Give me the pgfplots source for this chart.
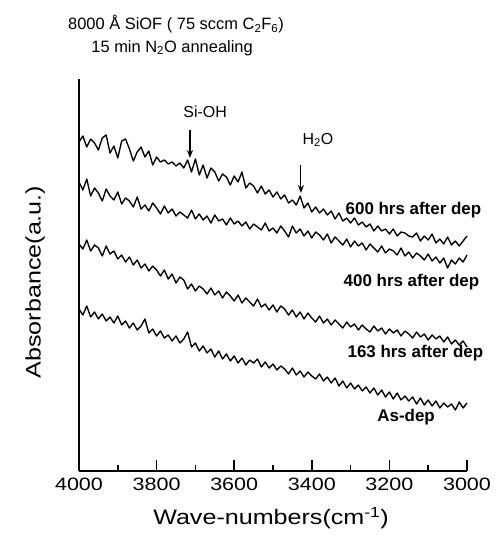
\documentclass[border=0pt]{standalone}
\usepackage{pgfplots}
\pgfplotsset{compat=1.18}
\usepackage{fontspec}
\setmainfont{Liberation Sans}
\newfontfamily\widesans[FakeStretch=1.2]{Liberation Sans}
\usetikzlibrary{arrows.meta}

\pgfplotsset{spec/.style={black, no markers, line width=1.35bp, line join=round}}

\begin{document}
\begin{tikzpicture}
\begin{axis}[
    at={(0,0)}, anchor=south west,
    scale only axis,
    width=388bp, height=392bp,
    xmin=3000, xmax=4000, x dir=reverse,
    ymin=79, ymax=471, y dir=reverse,
    axis x line=bottom, axis y line=left,
    axis line style={-, line width=1.5bp},
    xtick={3000,3200,...,4000},
    minor x tick num=1,
    ytick=\empty,
    tick align=inside,
    major tick length=11bp, minor tick length=6bp,
    tick style={line width=1.6bp, black},
    xticklabel style={font=\widesans\fontsize{18}{20}\selectfont, yshift=-3bp},
    /pgf/number format/assume math mode=true,
    /pgf/number format/1000 sep={},
    clip=false,
]

% 600 hrs after dep
\addplot[spec] coordinates {
(4000,142) (3990,136) (3980,147) (3970,139) (3960,143) (3950,150) (3940,138) (3930,135)
(3920,153) (3910,146) (3900,158) (3890,141) (3880,139) (3870,149) (3860,161) (3850,152)
(3840,147) (3830,157) (3820,151) (3810,165) (3800,157) (3790,162) (3780,160) (3770,164)
(3760,162) (3750,166) (3740,163) (3730,168) (3720,160) (3710,172) (3700,159) (3690,175)
(3680,165) (3670,178) (3660,168) (3650,172) (3640,181) (3630,174) (3620,177) (3610,185)
(3600,176) (3590,182) (3580,172) (3570,188) (3560,183) (3550,186) (3540,193) (3530,186)
(3520,194) (3510,190) (3500,197) (3490,192) (3480,199) (3470,195) (3460,203) (3450,200)
(3440,205) (3430,196) (3420,208) (3410,203) (3400,212) (3390,207) (3380,213) (3370,209)
(3360,215) (3350,211) (3340,219) (3330,213) (3320,221) (3310,218) (3300,223) (3290,218)
(3280,225) (3270,222) (3260,227) (3250,224) (3240,231) (3230,226) (3220,231) (3210,229)
(3200,234) (3190,229) (3180,236) (3170,232) (3160,233) (3150,236) (3140,237) (3130,233)
(3120,241) (3110,236) (3100,240) (3090,234) (3080,243) (3070,239) (3060,244) (3050,237)
(3040,245) (3030,241) (3020,246) (3010,241) (3000,236)
};

% 400 hrs after dep
\addplot[spec] coordinates {
(4000,182) (3990,190) (3980,179) (3970,196) (3960,188) (3950,193) (3940,201) (3930,189)
(3920,196) (3910,200) (3900,192) (3890,204) (3880,198) (3870,201) (3860,207) (3850,197)
(3840,209) (3830,205) (3820,211) (3810,203) (3800,208) (3790,214) (3780,206) (3770,213)
(3760,209) (3750,216) (3740,212) (3730,215) (3720,218) (3710,210) (3700,219) (3690,214)
(3680,220) (3670,216) (3660,223) (3650,215) (3640,221) (3630,219) (3620,225) (3610,218)
(3600,224) (3590,221) (3580,226) (3570,222) (3560,229) (3550,224) (3540,227) (3530,230)
(3520,223) (3510,231) (3500,228) (3490,233) (3480,226) (3470,231) (3460,237) (3450,226)
(3440,233) (3430,229) (3420,236) (3410,231) (3400,238) (3390,232) (3380,235) (3370,240)
(3360,234) (3350,243) (3340,237) (3330,241) (3320,245) (3310,239) (3300,247) (3290,241)
(3280,246) (3270,243) (3260,250) (3250,244) (3240,248) (3230,252) (3220,246) (3210,253)
(3200,249) (3190,251) (3180,255) (3170,248) (3160,256) (3150,252) (3140,258) (3130,253)
(3120,256) (3110,260) (3100,254) (3090,261) (3080,257) (3070,263) (3060,258) (3050,268)
(3040,260) (3030,264) (3020,258) (3010,262) (3000,255)
};

% 163 hrs after dep
\addplot[spec] coordinates {
(4000,244) (3990,249) (3980,240) (3970,251) (3960,245) (3950,248) (3940,256) (3930,246)
(3920,254) (3910,251) (3900,259) (3890,255) (3880,262) (3870,257) (3860,265) (3850,260)
(3840,268) (3830,264) (3820,271) (3810,266) (3800,270) (3790,276) (3780,270) (3770,279)
(3760,274) (3750,283) (3740,277) (3730,280) (3720,289) (3710,284) (3700,291) (3690,286)
(3680,289) (3670,294) (3660,288) (3650,295) (3640,291) (3630,298) (3620,292) (3610,296)
(3600,301) (3590,295) (3580,303) (3570,298) (3560,302) (3550,306) (3540,299) (3530,307)
(3520,304) (3510,310) (3500,305) (3490,312) (3480,306) (3470,309) (3460,315) (3450,310)
(3440,317) (3430,312) (3420,319) (3410,313) (3400,318) (3390,322) (3380,316) (3370,323)
(3360,319) (3350,325) (3340,320) (3330,324) (3320,328) (3310,322) (3300,327) (3290,324)
(3280,330) (3270,325) (3260,329) (3250,332) (3240,326) (3230,331) (3220,328) (3210,334)
(3200,329) (3190,333) (3180,330) (3170,336) (3160,331) (3150,334) (3140,338) (3130,332)
(3120,337) (3110,334) (3100,340) (3090,335) (3080,339) (3070,336) (3060,342) (3050,337)
(3040,344) (3030,340) (3020,345) (3010,341) (3000,347)
};

% As-dep
\addplot[spec] coordinates {
(4000,309) (3990,315) (3980,306) (3970,317) (3960,312) (3950,319) (3940,314) (3930,321)
(3920,317) (3910,323) (3900,316) (3890,325) (3880,321) (3870,328) (3860,323) (3850,330)
(3840,326) (3830,319) (3820,333) (3810,329) (3800,336) (3790,331) (3780,338) (3770,335)
(3760,341) (3750,336) (3740,343) (3730,339) (3720,332) (3710,347) (3700,343) (3690,351)
(3680,346) (3670,353) (3660,349) (3650,357) (3640,351) (3630,359) (3620,354) (3610,361)
(3600,356) (3590,363) (3580,358) (3570,365) (3560,360) (3550,363) (3540,359) (3530,367)
(3520,362) (3510,368) (3500,364) (3490,370) (3480,366) (3470,369) (3460,374) (3450,368)
(3440,375) (3430,371) (3420,377) (3410,372) (3400,376) (3390,379) (3380,374) (3370,381)
(3360,377) (3350,383) (3340,378) (3330,386) (3320,381) (3310,388) (3300,383) (3290,389)
(3280,385) (3270,391) (3260,387) (3250,393) (3240,388) (3230,395) (3220,390) (3210,397)
(3200,392) (3190,399) (3180,393) (3170,400) (3160,396) (3150,401) (3140,397) (3130,404)
(3120,398) (3110,405) (3100,400) (3090,406) (3080,401) (3070,408) (3060,403) (3050,407)
(3040,404) (3030,410) (3020,402) (3010,408) (3000,403)
};

% major tick marks, drawn again so they show clearly
\draw[line width=1.6bp] (axis cs:4000,471) -- (axis cs:4000,460);
\draw[line width=1.6bp] (axis cs:3800,471) -- (axis cs:3800,460);
\draw[line width=1.6bp] (axis cs:3600,471) -- (axis cs:3600,460);
\draw[line width=1.6bp] (axis cs:3400,471) -- (axis cs:3400,460);
\draw[line width=1.6bp] (axis cs:3200,471) -- (axis cs:3200,460);
\draw[line width=1.6bp] (axis cs:3000,471) -- (axis cs:3000,460);

% annotations
\node[font=\fontsize{16.5}{18}\selectfont] at (axis cs:3750,24)
    {8000 Å SiOF ( 75 sccm C\textsubscript{2}F\textsubscript{6})};
\node[font=\fontsize{16.5}{18}\selectfont] at (axis cs:3760,48)
    {15 min N\textsubscript{2}O annealing};

\node[font=\fontsize{16}{18}\selectfont] at (axis cs:3675,112) {Si-OH};
\draw[-{Stealth[length=8bp,width=6bp]}, line width=1.1bp] (axis cs:3714,130) -- (axis cs:3714,158);
\node[font=\fontsize{16}{18}\selectfont] at (axis cs:3384,140) {H\textsubscript{2}O};
\draw[-{Stealth[length=8bp,width=6bp]}, line width=1.1bp] (axis cs:3428,165) -- (axis cs:3428,193);

\node[font=\bfseries\fontsize{17}{19}\selectfont] at (axis cs:3138,210) {600 hrs after dep};
\node[font=\bfseries\fontsize{17}{19}\selectfont] at (axis cs:3143,282) {400 hrs after dep};
\node[font=\bfseries\fontsize{17}{19}\selectfont] at (axis cs:3133,353) {163 hrs after dep};
\node[font=\bfseries\fontsize{17}{19}\selectfont] at (axis cs:3157,417) {As-dep};

\node[font=\widesans\fontsize{21}{23}\selectfont, rotate=90] at (axis cs:4113,282) {Absorbance(a.u.)};
\node[font=\widesans\fontsize{21}{23}\selectfont] at (axis cs:3505,518) {Wave-numbers(cm\textsuperscript{-1})};
\end{axis}
\pgfresetboundingbox
\path (-79bp,-88bp) rectangle (421bp,471bp);
\end{tikzpicture}
\end{document}
